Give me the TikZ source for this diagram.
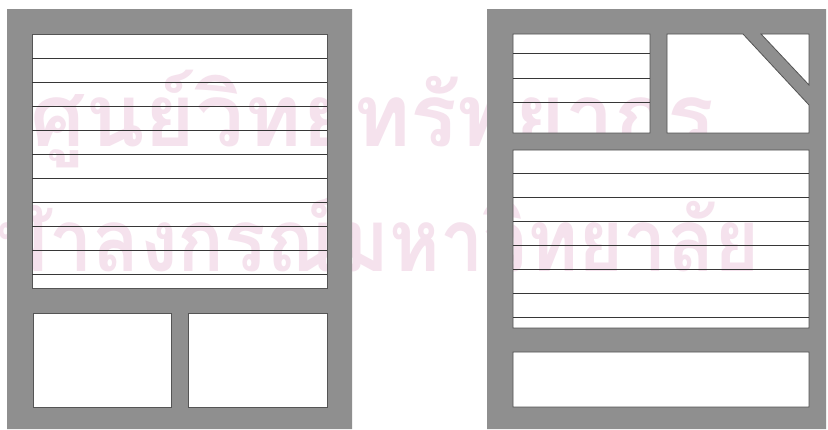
\documentclass[tikz,border=0pt]{standalone}
\usepackage{graphicx}
\usepackage{fontspec}
\newfontfamily\thaifont[Script=Thai]{Loma}
\definecolor{framegrey}{RGB}{143,143,143}
\definecolor{wmpink}{RGB}{245,226,237}
\definecolor{ruledark}{RGB}{55,55,55}
\definecolor{edgedark}{RGB}{85,85,85}
\tikzset{
  wmtext/.style={text=wmpink, font=\thaifont\bfseries\fontsize{87}{87}\selectfont, inner sep=0pt},
  framefill/.style={fill=framegrey, even odd rule},
  holeedge/.style={draw=edgedark, line width=0.8pt},
  textrule/.style={draw=ruledark, line width=0.9pt}
}
\begin{document}
\begin{tikzpicture}[x=1pt,y=-1pt]
\useasboundingbox (0,0) rectangle (828,429);
\fill[white] (0,0) rectangle (828,429);
% watermark
\node[wmtext, anchor=base west] (wm1) at (30,146) {ศูนย์วิทยทรัพยากร};
\node[wmtext, anchor=base east] (wm2) at (760,271) {\scalebox{0.89}[1]{จุฬาลงกรณ์มหาวิทยาลัย}};
% left page
\fill[framefill] (7,9) rectangle (352,429)
  (32,34) rectangle (327,288)
  (33,313) rectangle (171,407)
  (188,313) rectangle (327,407);
\draw[holeedge] (32,34) rectangle (327,288)
  (33,313) rectangle (171,407)
  (188,313) rectangle (327,407);
\foreach \yy in {58,82,...,274} \draw[textrule] (32,\yy) -- (327,\yy);
% right page
\fill[framefill] (487,9) rectangle (826,429)
  (513,34) rectangle (650,133)
  (667,34) -- (743,34) -- (809,105) -- (809,133) -- (667,133) -- cycle
  (761,34) -- (809,34) -- (809,85) -- cycle
  (513,150) rectangle (809,328)
  (513,352) rectangle (809,407);
\draw[holeedge] (513,34) rectangle (650,133)
  (667,34) -- (743,34) -- (809,105) -- (809,133) -- (667,133) -- cycle
  (761,34) -- (809,34) -- (809,85) -- cycle
  (513,150) rectangle (809,328)
  (513,352) rectangle (809,407);
\foreach \yy in {53,78,102} \draw[textrule] (513,\yy) -- (650,\yy);
\foreach \yy in {173,197,...,317} \draw[textrule] (513,\yy) -- (809,\yy);
\end{tikzpicture}
\end{document}
